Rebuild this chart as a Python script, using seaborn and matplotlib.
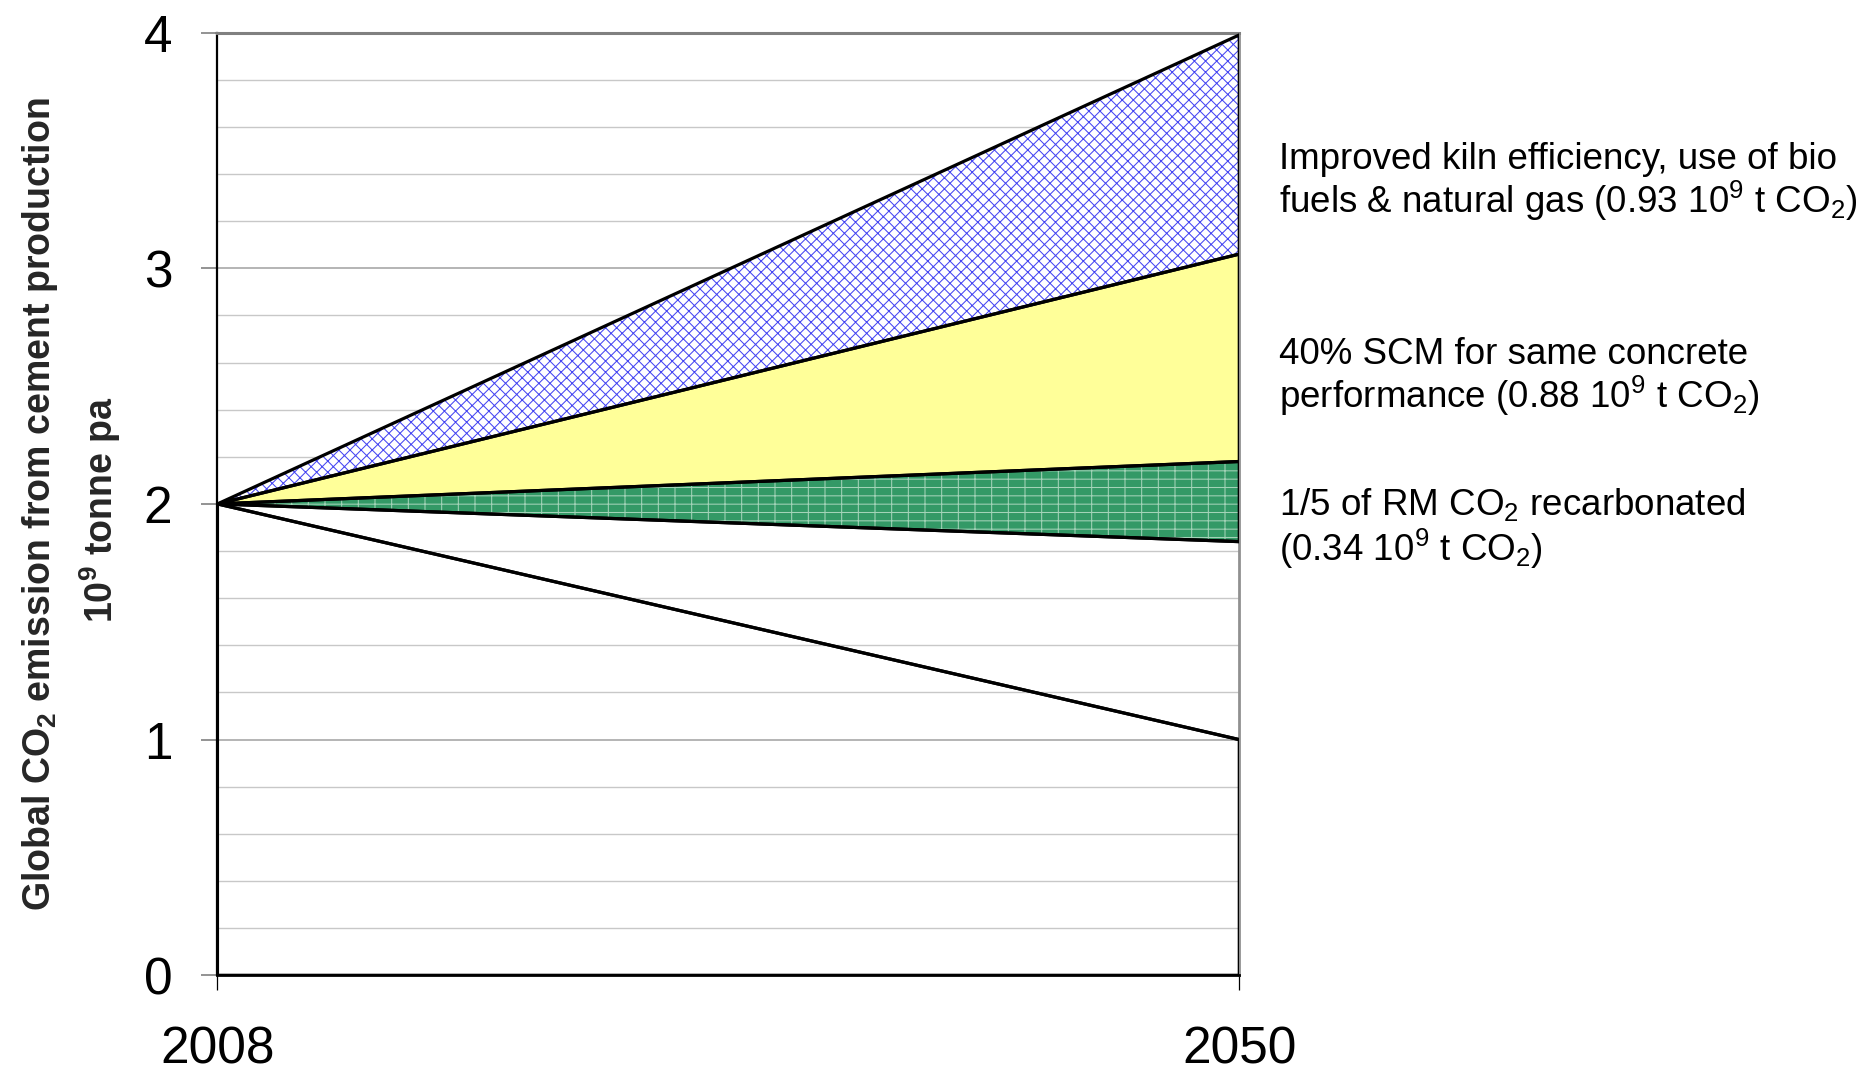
import matplotlib
matplotlib.use("Agg")
import matplotlib.pyplot as plt
from matplotlib.ticker import MultipleLocator
import seaborn as sns
import pandas as pd

# ---- data -------------------------------------------------------------
years = [2008, 2050]
year_labels = ["2008", "2050"]
target_path = [2.0, 1.0]          # lower reference line
residual_2050 = 1.84              # emissions left after all measures
start_level = 2.0
# savings in 2050, stacked upward from the residual level (10^9 t CO2)
saving_names = ["recarbonation", "scm", "kiln"]
saving_values = [0.34, 0.88, 0.93]
saving_texts = [
    ["1/5 of RM CO$_2$ recarbonated", "(0.34 10$^9$ t CO$_2$)"],
    ["40% SCM for same concrete", "performance (0.88 10$^9$ t CO$_2$)"],
    ["Improved kiln efficiency, use of bio", "fuels & natural gas (0.93 10$^9$ t CO$_2$)"],
]
y_ticks = [0, 1, 2, 3, 4]

# ---- style -------------------------------------------------------------
sns.set_theme(style="white")
plt.rcParams["font.family"] = ["Liberation Sans", "DejaVu Sans"]
plt.rcParams["mathtext.fontset"] = "custom"
plt.rcParams["mathtext.rm"] = "Liberation Sans"
plt.rcParams["mathtext.default"] = "regular"
plt.rcParams["hatch.linewidth"] = 0.75

fig = plt.figure(figsize=(18.65, 10.74), dpi=100)
ax = fig.add_axes([0.1166, 0.0919, 0.5479, 0.8778])

# band boundaries built from the stated savings
lower = [start_level, residual_2050]
bands = []
for name, val in zip(saving_names, saving_values):
    upper = [start_level, lower[1] + val]
    bands.append((name, lower, upper))
    lower = upper

band_style = {
    "recarbonation": dict(facecolor="#339966", edgecolor="#a3d3b8", hatch="--|"),
    "scm": dict(facecolor="#ffff99", edgecolor="#ffff99", hatch=None),
    "kiln": dict(facecolor="white", edgecolor="#4646f2", hatch="xxx"),
}

for name, lo, hi in bands:
    st = band_style[name]
    ax.fill_between(years, lo, hi, facecolor=st["facecolor"], edgecolor=st["edgecolor"],
                    hatch=st["hatch"], linewidth=0, zorder=2)
    ax.fill_between(years, lo, hi, facecolor="none", edgecolor="black",
                    linewidth=2.3, zorder=3)

# outline of the lower reference area
ax.fill_between(years, 0, target_path, facecolor="none", edgecolor="black",
                linewidth=2.3, zorder=3)

lines = pd.DataFrame({
    "year": years * 2,
    "value": target_path + [start_level, residual_2050],
    "series": ["target"] * 2 + ["residual"] * 2,
})
sns.lineplot(data=lines, x="year", y="value", units="series", estimator=None,
             color="black", linewidth=2.3, ax=ax, zorder=4)

# ---- axes ----------------------------------------------------------------
ax.set_xlim(years[0], years[-1])
ax.set_ylim(0, 4)
ax.set_xticks(years)
ax.set_xticklabels(year_labels)
ax.set_yticks(y_ticks)
ax.set_yticklabels([str(t) for t in y_ticks])
ax.yaxis.set_minor_locator(MultipleLocator(0.2))
ax.set_xlabel("")
ax.set_ylabel("")

ax.grid(True, axis="y", which="major", color="#a8a8a8", linewidth=1.2)
ax.grid(True, axis="y", which="minor", color="#c8c8c8", linewidth=1.0)
ax.grid(False, axis="x")
ax.set_axisbelow(True)

ax.tick_params(axis="y", which="major", left=True, direction="out", length=11.5,
               width=1.2, color="#808080", labelsize=37, pad=21, labelcolor="black")
ax.tick_params(axis="y", which="minor", left=False, length=0)
ax.tick_params(axis="x", which="major", bottom=True, direction="out", length=11,
               width=0.9, color="black", labelsize=37, pad=25, labelcolor="black")

for side, col, lw in [("left", "black", 1.6), ("bottom", "black", 2.0),
                      ("top", "#808080", 2.2), ("right", "#909090", 2.0)]:
    ax.spines[side].set_visible(True)
    ax.spines[side].set_color(col)
    ax.spines[side].set_linewidth(lw)

# ---- y axis title (two lines) -------------------------------------------
fig.text(0.0215, 0.5307, "Global CO$_2$ emission from cement production", rotation=90,
         ha="center", va="center", fontsize=27, fontweight="bold")
fig.text(0.0535, 0.5250, "10$^9$ tonne pa", rotation=90,
         ha="center", va="center", fontsize=27, fontweight="bold")

# ---- annotations right of the plot ----------------------------------------
text_x = 0.6858
baselines = [(0.5205, 0.4773), (0.6611, 0.6201), (0.8427, 0.8018)]
for lines_txt, (b1, b2) in zip(saving_texts, baselines):
    fig.text(text_x, b1, lines_txt[0], ha="left", va="baseline", fontsize=26.5, color="black")
    fig.text(text_x, b2, lines_txt[1], ha="left", va="baseline", fontsize=26.5, color="black")

fig.savefig("out.png", dpi=100)
